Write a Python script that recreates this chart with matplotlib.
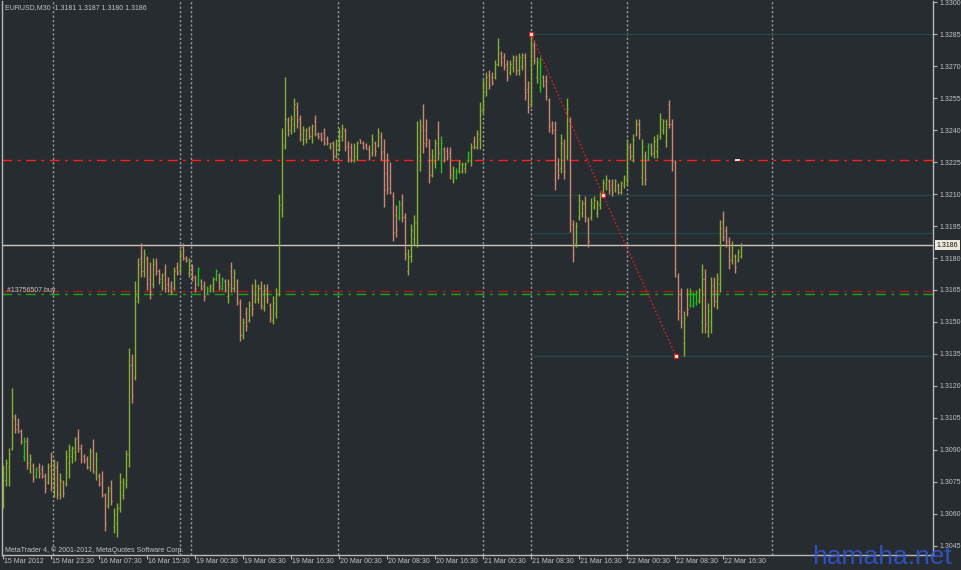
import matplotlib
matplotlib.use("Agg")
import matplotlib.pyplot as plt
from matplotlib.transforms import blended_transform_factory

# ---------------- data (EURUSD M30, bar 0 = 15 Mar 2012 15:30) ----------------
opens = [
    1.3066, 1.3076, 1.3082, 1.3091, 1.3105, 1.3102, 1.3099, 1.3087, 1.3094, 1.3081,
    1.3083, 1.3078, 1.3082, 1.3081, 1.3078, 1.3075, 1.3083, 1.3072, 1.3082, 1.3069,
    1.3075, 1.3074, 1.3084, 1.3087, 1.3089, 1.3096, 1.3091, 1.3087, 1.3086, 1.3082,
    1.3090, 1.3079, 1.3078, 1.3075, 1.3069, 1.3064, 1.3072, 1.3054, 1.3056, 1.3063,
    1.3069, 1.3074, 1.3088, 1.3130, 1.3124, 1.3162, 1.3180, 1.3174, 1.3180, 1.3170,
    1.3168, 1.3178, 1.3174, 1.3167, 1.3173, 1.3168, 1.3167, 1.3166, 1.3176, 1.3174,
    1.3185, 1.3180, 1.3173, 1.3176, 1.3171, 1.3168, 1.3169, 1.3167, 1.3163, 1.3165,
    1.3166, 1.3170, 1.3172, 1.3166, 1.3169, 1.3162, 1.3174, 1.3166, 1.3169, 1.3159,
    1.3144, 1.3154, 1.3151, 1.3164, 1.3160, 1.3161, 1.3166, 1.3157, 1.3166, 1.3158,
    1.3151, 1.3154, 1.3163, 1.3203, 1.3233, 1.3244, 1.3240, 1.3243, 1.3251, 1.3245,
    1.3236, 1.3236, 1.3241, 1.3237, 1.3244, 1.3238, 1.3238, 1.3239, 1.3236, 1.3232,
    1.3234, 1.3228, 1.3233, 1.3237, 1.3240, 1.3233, 1.3232, 1.3226, 1.3228, 1.3236,
    1.3234, 1.3233, 1.3231, 1.3229, 1.3234, 1.3233, 1.3237, 1.3230, 1.3220, 1.3218,
    1.3209, 1.3200, 1.3199, 1.3206, 1.3199, 1.3174, 1.3181, 1.3189, 1.3197, 1.3228,
    1.3242, 1.3240, 1.3234, 1.3219, 1.3225, 1.3238, 1.3226, 1.3231, 1.3230, 1.3229,
    1.3217, 1.3218, 1.3221, 1.3221, 1.3222, 1.3225, 1.3226, 1.3235, 1.3232, 1.3236,
    1.3250, 1.3258, 1.3266, 1.3265, 1.3265, 1.3271, 1.3276, 1.3274, 1.3271, 1.3267,
    1.3269, 1.3273, 1.3268, 1.3270, 1.3274, 1.3259, 1.3252, 1.3280, 1.3265, 1.3260,
    1.3265, 1.3263, 1.3254, 1.3243, 1.3240, 1.3224, 1.3222, 1.3233, 1.3228, 1.3244,
    1.3196, 1.3187, 1.3199, 1.3201, 1.3206, 1.3198, 1.3199, 1.3204, 1.3201, 1.3205,
    1.3211, 1.3214, 1.3216, 1.3214, 1.3212, 1.3214, 1.3211, 1.3214, 1.3217, 1.3232,
    1.3228, 1.3238, 1.3243, 1.3218, 1.3228, 1.3227, 1.3233, 1.3229, 1.3230, 1.3237,
    1.3240, 1.3235, 1.3252, 1.3243, 1.3225, 1.3171, 1.3163, 1.3140, 1.3163, 1.3158,
    1.3158, 1.3159, 1.3160, 1.3150, 1.3170, 1.3146, 1.3150, 1.3168, 1.3160, 1.3168,
    1.3197, 1.3193, 1.3188, 1.3179, 1.3181, 1.3179, 1.3181,
]
highs = [
    1.3083, 1.3086, 1.3091, 1.3119, 1.3107, 1.3105, 1.3100, 1.3096, 1.3096, 1.3088,
    1.3084, 1.3082, 1.3084, 1.3083, 1.3079, 1.3084, 1.3089, 1.3086, 1.3085, 1.3079,
    1.3076, 1.3090, 1.3093, 1.3092, 1.3096, 1.3100, 1.3093, 1.3088, 1.3087, 1.3091,
    1.3095, 1.3089, 1.3079, 1.3080, 1.3070, 1.3073, 1.3076, 1.3063, 1.3065, 1.3079,
    1.3077, 1.3090, 1.3138, 1.3135, 1.3169, 1.3180, 1.3187, 1.3184, 1.3181, 1.3178,
    1.3180, 1.3180, 1.3175, 1.3173, 1.3177, 1.3171, 1.3169, 1.3176, 1.3178, 1.3184,
    1.3187, 1.3181, 1.3180, 1.3177, 1.3172, 1.3176, 1.3170, 1.3169, 1.3167, 1.3168,
    1.3171, 1.3175, 1.3173, 1.3171, 1.3170, 1.3170, 1.3178, 1.3175, 1.3170, 1.3161,
    1.3152, 1.3157, 1.3160, 1.3168, 1.3170, 1.3168, 1.3169, 1.3168, 1.3168, 1.3159,
    1.3162, 1.3166, 1.3210, 1.3241, 1.3265, 1.3246, 1.3247, 1.3255, 1.3253, 1.3247,
    1.3242, 1.3241, 1.3242, 1.3243, 1.3247, 1.3239, 1.3239, 1.3241, 1.3237, 1.3234,
    1.3235, 1.3236, 1.3241, 1.3243, 1.3241, 1.3235, 1.3234, 1.3234, 1.3235, 1.3236,
    1.3235, 1.3234, 1.3233, 1.3238, 1.3235, 1.3241, 1.3239, 1.3236, 1.3229, 1.3225,
    1.3211, 1.3205, 1.3207, 1.3210, 1.3201, 1.3184, 1.3196, 1.3200, 1.3244, 1.3245,
    1.3252, 1.3245, 1.3236, 1.3231, 1.3236, 1.3244, 1.3237, 1.3232, 1.3232, 1.3232,
    1.3223, 1.3222, 1.3226, 1.3225, 1.3225, 1.3230, 1.3234, 1.3237, 1.3240, 1.3253,
    1.3264, 1.3267, 1.3268, 1.3267, 1.3273, 1.3283, 1.3277, 1.3276, 1.3273, 1.3273,
    1.3275, 1.3275, 1.3276, 1.3276, 1.3276, 1.3263, 1.3285, 1.3282, 1.3274, 1.3274,
    1.3266, 1.3266, 1.3255, 1.3244, 1.3244, 1.3227, 1.3238, 1.3236, 1.3255, 1.3246,
    1.3198, 1.3197, 1.3210, 1.3207, 1.3209, 1.3199, 1.3208, 1.3209, 1.3207, 1.3211,
    1.3217, 1.3219, 1.3217, 1.3217, 1.3217, 1.3215, 1.3216, 1.3219, 1.3236, 1.3234,
    1.3238, 1.3245, 1.3245, 1.3236, 1.3230, 1.3234, 1.3234, 1.3237, 1.3238, 1.3248,
    1.3245, 1.3245, 1.3254, 1.3245, 1.3226, 1.3173, 1.3166, 1.3155, 1.3166, 1.3166,
    1.3164, 1.3165, 1.3166, 1.3177, 1.3175, 1.3159, 1.3171, 1.3171, 1.3173, 1.3198,
    1.3202, 1.3195, 1.3190, 1.3188, 1.3182, 1.3184, 1.3187,
]
lows = [
    1.3063, 1.3073, 1.3073, 1.3090, 1.3098, 1.3098, 1.3093, 1.3085, 1.3081, 1.3079,
    1.3075, 1.3077, 1.3077, 1.3077, 1.3070, 1.3074, 1.3071, 1.3068, 1.3067, 1.3067,
    1.3068, 1.3073, 1.3077, 1.3084, 1.3085, 1.3089, 1.3084, 1.3084, 1.3081, 1.3080,
    1.3079, 1.3076, 1.3073, 1.3068, 1.3052, 1.3063, 1.3064, 1.3051, 1.3049, 1.3061,
    1.3067, 1.3072, 1.3082, 1.3112, 1.3123, 1.3159, 1.3171, 1.3171, 1.3165, 1.3161,
    1.3166, 1.3172, 1.3168, 1.3165, 1.3164, 1.3164, 1.3163, 1.3165, 1.3172, 1.3173,
    1.3179, 1.3178, 1.3171, 1.3169, 1.3164, 1.3167, 1.3165, 1.3160, 1.3163, 1.3164,
    1.3164, 1.3169, 1.3165, 1.3165, 1.3164, 1.3159, 1.3164, 1.3164, 1.3158, 1.3141,
    1.3142, 1.3146, 1.3150, 1.3153, 1.3159, 1.3159, 1.3156, 1.3155, 1.3159, 1.3150,
    1.3149, 1.3152, 1.3162, 1.3199, 1.3231, 1.3237, 1.3238, 1.3239, 1.3241, 1.3235,
    1.3233, 1.3234, 1.3236, 1.3234, 1.3237, 1.3236, 1.3235, 1.3233, 1.3233, 1.3231,
    1.3226, 1.3227, 1.3230, 1.3235, 1.3230, 1.3225, 1.3225, 1.3225, 1.3226, 1.3234,
    1.3231, 1.3231, 1.3226, 1.3228, 1.3228, 1.3232, 1.3226, 1.3204, 1.3210, 1.3210,
    1.3188, 1.3190, 1.3198, 1.3197, 1.3179, 1.3172, 1.3178, 1.3186, 1.3185, 1.3221,
    1.3229, 1.3232, 1.3215, 1.3218, 1.3222, 1.3226, 1.3220, 1.3225, 1.3226, 1.3217,
    1.3215, 1.3217, 1.3220, 1.3220, 1.3220, 1.3225, 1.3223, 1.3231, 1.3231, 1.3231,
    1.3248, 1.3256, 1.3259, 1.3261, 1.3264, 1.3270, 1.3270, 1.3268, 1.3263, 1.3266,
    1.3267, 1.3266, 1.3266, 1.3268, 1.3254, 1.3248, 1.3251, 1.3271, 1.3262, 1.3258,
    1.3260, 1.3254, 1.3239, 1.3238, 1.3212, 1.3217, 1.3220, 1.3217, 1.3226, 1.3192,
    1.3178, 1.3185, 1.3198, 1.3199, 1.3197, 1.3185, 1.3198, 1.3203, 1.3199, 1.3203,
    1.3210, 1.3212, 1.3210, 1.3209, 1.3211, 1.3210, 1.3210, 1.3213, 1.3214, 1.3226,
    1.3225, 1.3237, 1.3236, 1.3214, 1.3214, 1.3226, 1.3228, 1.3227, 1.3227, 1.3236,
    1.3238, 1.3232, 1.3241, 1.3221, 1.3171, 1.3151, 1.3147, 1.3134, 1.3153, 1.3157,
    1.3157, 1.3158, 1.3159, 1.3145, 1.3145, 1.3143, 1.3145, 1.3157, 1.3156, 1.3164,
    1.3188, 1.3185, 1.3175, 1.3177, 1.3173, 1.3178, 1.3180,
]
closes = [
    1.3079, 1.3084, 1.3088, 1.3106, 1.3100, 1.3099, 1.3094, 1.3094, 1.3084, 1.3086,
    1.3077, 1.3081, 1.3079, 1.3078, 1.3072, 1.3082, 1.3074, 1.3082, 1.3070, 1.3076,
    1.3070, 1.3087, 1.3090, 1.3091, 1.3095, 1.3091, 1.3086, 1.3085, 1.3082, 1.3089,
    1.3080, 1.3086, 1.3074, 1.3069, 1.3056, 1.3071, 1.3066, 1.3060, 1.3063, 1.3075,
    1.3075, 1.3088, 1.3130, 1.3116, 1.3160, 1.3177, 1.3174, 1.3182, 1.3168, 1.3164,
    1.3177, 1.3174, 1.3170, 1.3172, 1.3166, 1.3165, 1.3164, 1.3174, 1.3173, 1.3182,
    1.3180, 1.3179, 1.3178, 1.3171, 1.3166, 1.3175, 1.3166, 1.3162, 1.3166, 1.3167,
    1.3170, 1.3174, 1.3167, 1.3170, 1.3165, 1.3168, 1.3166, 1.3173, 1.3160, 1.3144,
    1.3150, 1.3148, 1.3158, 1.3156, 1.3167, 1.3166, 1.3158, 1.3165, 1.3161, 1.3152,
    1.3159, 1.3163, 1.3205, 1.3232, 1.3245, 1.3240, 1.3245, 1.3252, 1.3244, 1.3238,
    1.3240, 1.3240, 1.3237, 1.3242, 1.3238, 1.3237, 1.3236, 1.3234, 1.3234, 1.3234,
    1.3228, 1.3234, 1.3239, 1.3241, 1.3232, 1.3227, 1.3226, 1.3232, 1.3234, 1.3234,
    1.3232, 1.3231, 1.3228, 1.3236, 1.3230, 1.3239, 1.3229, 1.3212, 1.3213, 1.3211,
    1.3192, 1.3193, 1.3205, 1.3199, 1.3182, 1.3181, 1.3193, 1.3197, 1.3232, 1.3240,
    1.3234, 1.3236, 1.3219, 1.3228, 1.3234, 1.3229, 1.3234, 1.3227, 1.3228, 1.3219,
    1.3221, 1.3221, 1.3224, 1.3224, 1.3224, 1.3229, 1.3232, 1.3232, 1.3238, 1.3249,
    1.3261, 1.3265, 1.3261, 1.3262, 1.3271, 1.3279, 1.3272, 1.3270, 1.3265, 1.3271,
    1.3274, 1.3268, 1.3274, 1.3275, 1.3258, 1.3251, 1.3280, 1.3273, 1.3272, 1.3270,
    1.3261, 1.3256, 1.3242, 1.3240, 1.3216, 1.3219, 1.3234, 1.3221, 1.3250, 1.3198,
    1.3182, 1.3195, 1.3207, 1.3206, 1.3199, 1.3188, 1.3206, 1.3207, 1.3206, 1.3210,
    1.3215, 1.3217, 1.3212, 1.3211, 1.3216, 1.3211, 1.3215, 1.3218, 1.3232, 1.3228,
    1.3236, 1.3243, 1.3238, 1.3232, 1.3217, 1.3232, 1.3229, 1.3235, 1.3236, 1.3245,
    1.3244, 1.3243, 1.3243, 1.3226, 1.3175, 1.3155, 1.3150, 1.3152, 1.3156, 1.3164,
    1.3163, 1.3164, 1.3165, 1.3170, 1.3149, 1.3155, 1.3167, 1.3160, 1.3170, 1.3194,
    1.3190, 1.3188, 1.3179, 1.3186, 1.3176, 1.3183, 1.3186,
]
# bars drawn in the brighter green
bright_bars = [7, 11, 65, 68, 71, 73, 132, 146, 151, 155, 179, 215, 229, 230, 231]

time_labels = ["15 Mar 2012", "15 Mar 23:30", "16 Mar 07:30", "16 Mar 15:30",
               "19 Mar 00:30", "19 Mar 08:30", "19 Mar 16:30", "20 Mar 00:30",
               "20 Mar 08:30", "20 Mar 16:30", "21 Mar 00:30", "21 Mar 08:30",
               "21 Mar 16:30", "22 Mar 00:30", "22 Mar 08:30", "22 Mar 16:30"]
time_label_bars = [0, 16, 32, 48, 64, 80, 96, 112, 128, 144, 160, 176, 192, 208, 224, 240]
price_ticks = [1.3045, 1.3060, 1.3075, 1.3090, 1.3105, 1.3120, 1.3135, 1.3150, 1.3165,
               1.3180, 1.3195, 1.3210, 1.3225, 1.3240, 1.3255, 1.3270, 1.3285, 1.3300]
separators = [16.67, 59.0, 62.67, 111.67, 160.0, 176.0, 208.0, 256.33]
current_price = 1.3186
level_red = 1.3226
level_buy_red = 1.31645
level_buy_green = 1.3163
trade_x = [176.0, 200.0, 224.33]
trade_y = [1.3285, 1.32095, 1.31341]
faint_levels = [1.3285, 1.32095, 1.31917, 1.31341]
faint_start = 176.0

# ---------------- styling ----------------
BG = "#272c30"
UP = "#84b034"
DOWN = "#c8876e"
BRIGHT = "#18c818"
TXT = "#c4c4c4"
AX = "#b8b8b8"
FONT = ["Liberation Sans", "DejaVu Sans"]
FS = 5.0

fig = plt.figure(figsize=(9.62, 5.70), dpi=100, facecolor=BG)
ax = fig.add_axes([2 / 962, 15 / 570, 931 / 962, 554 / 570])
ax.set_facecolor(BG)
ax.set_xlim(-0.333, 310.0)
ax.set_ylim(1.304078, 1.330047)

# vertical separators
for s in separators:
    ax.axvline(s, color="#9a9a9a", lw=1.0, ls=(0, (1.6, 1.6)), zorder=1)

# faint level lines
for lv in faint_levels:
    ax.hlines(lv, faint_start, 310, color="#24474c", lw=0.9, zorder=1)

# horizontal levels
ax.axhline(level_red, color="#ff1c1c", lw=1.0, ls=(0, (7, 4, 2, 4)), zorder=2)
ax.axhline(level_buy_red, color="#a81818", lw=1.0, ls=(0, (7, 4, 2, 4)), zorder=2)
ax.axhline(level_buy_green, color="#12a812", lw=1.0, ls=(0, (7, 4, 2, 4)), zorder=2)
ax.axhline(current_price, color="#cbc4b8", lw=1.0, zorder=2)

# OHLC bars
n = min(len(opens), len(highs), len(lows), len(closes))
xs = list(range(n))
cols = []
for i in xs:
    if i in bright_bars:
        cols.append(BRIGHT)
    elif closes[i] >= opens[i]:
        cols.append(UP)
    else:
        cols.append(DOWN)
ax.vlines(xs, lows[:n], highs[:n], colors=cols, lw=1.0, zorder=3)
ax.hlines(opens[:n], [x - 0.42 for x in xs], xs, colors=cols, lw=0.9, zorder=3)
ax.hlines(closes[:n], xs, [x + 0.42 for x in xs], colors=cols, lw=0.9, zorder=3)

# trade line
ax.plot(trade_x, trade_y, color="#e02020", lw=1.0, ls=(0, (1.2, 1.6)), zorder=4)
ax.plot(trade_x, trade_y, ls="none", marker="s", ms=3, mfc="#e8e8e8",
        mec="#e02020", mew=0.8, zorder=5)
ax.hlines(level_red, 243.9, 245.6, color="#f0f0f0", lw=1.3, zorder=5)

# spines
for sp in ["left", "bottom", "right"]:
    ax.spines[sp].set_color(AX)
    ax.spines[sp].set_linewidth(1.0)
ax.spines["top"].set_visible(False)

# y axis on the right
ax.yaxis.tick_right()
ax.set_yticks(price_ticks)
ax.set_yticklabels(["%.4f" % p for p in price_ticks], family=FONT)
ax.tick_params(axis="y", colors=AX, labelcolor=TXT, labelsize=FS, length=3,
               width=0.8, pad=2)

# x axis
ax.set_xticks(time_label_bars)
ax.set_xticklabels([])
ax.tick_params(axis="x", colors=AX, length=3, width=0.8)
trans = blended_transform_factory(ax.transData, ax.transAxes)
for b, lab in zip(time_label_bars, time_labels):
    ax.text(b + 0.3, -0.006, lab, transform=trans, ha="left", va="top",
            fontsize=FS, color=TXT, family=FONT)

# current price box
ax.text(1.004, current_price, "1.3186",
        transform=blended_transform_factory(ax.transAxes, ax.transData),
        ha="left", va="center", fontsize=FS, color="#101010", family=FONT,
        bbox=dict(boxstyle="square,pad=0.2", fc="#ece8dc", ec="none"))

# texts
fig.text(5 / 962, 1 - 8 / 570, "EURUSD,M30  1.3181 1.3187 1.3180 1.3186",
         ha="left", va="center", fontsize=FS, color=TXT, family=FONT)
fig.text(5 / 962, 1 - 550 / 570, "MetaTrader 4, \u00a9 2001-2012, MetaQuotes Software Corp.",
         ha="left", va="center", fontsize=FS, color=TXT, family=FONT)
ax.text(1.5, level_buy_red + 0.00003, "#13756507 buy", ha="left", va="center",
        fontsize=FS, color=TXT, family=FONT, zorder=6)
fig.text(812 / 962, 1 / 570, "hamaha.net", ha="left", va="bottom",
         fontsize=19, color="#3054d0", family=FONT, alpha=0.9)

fig.savefig("out.png", dpi=100, facecolor=BG)
